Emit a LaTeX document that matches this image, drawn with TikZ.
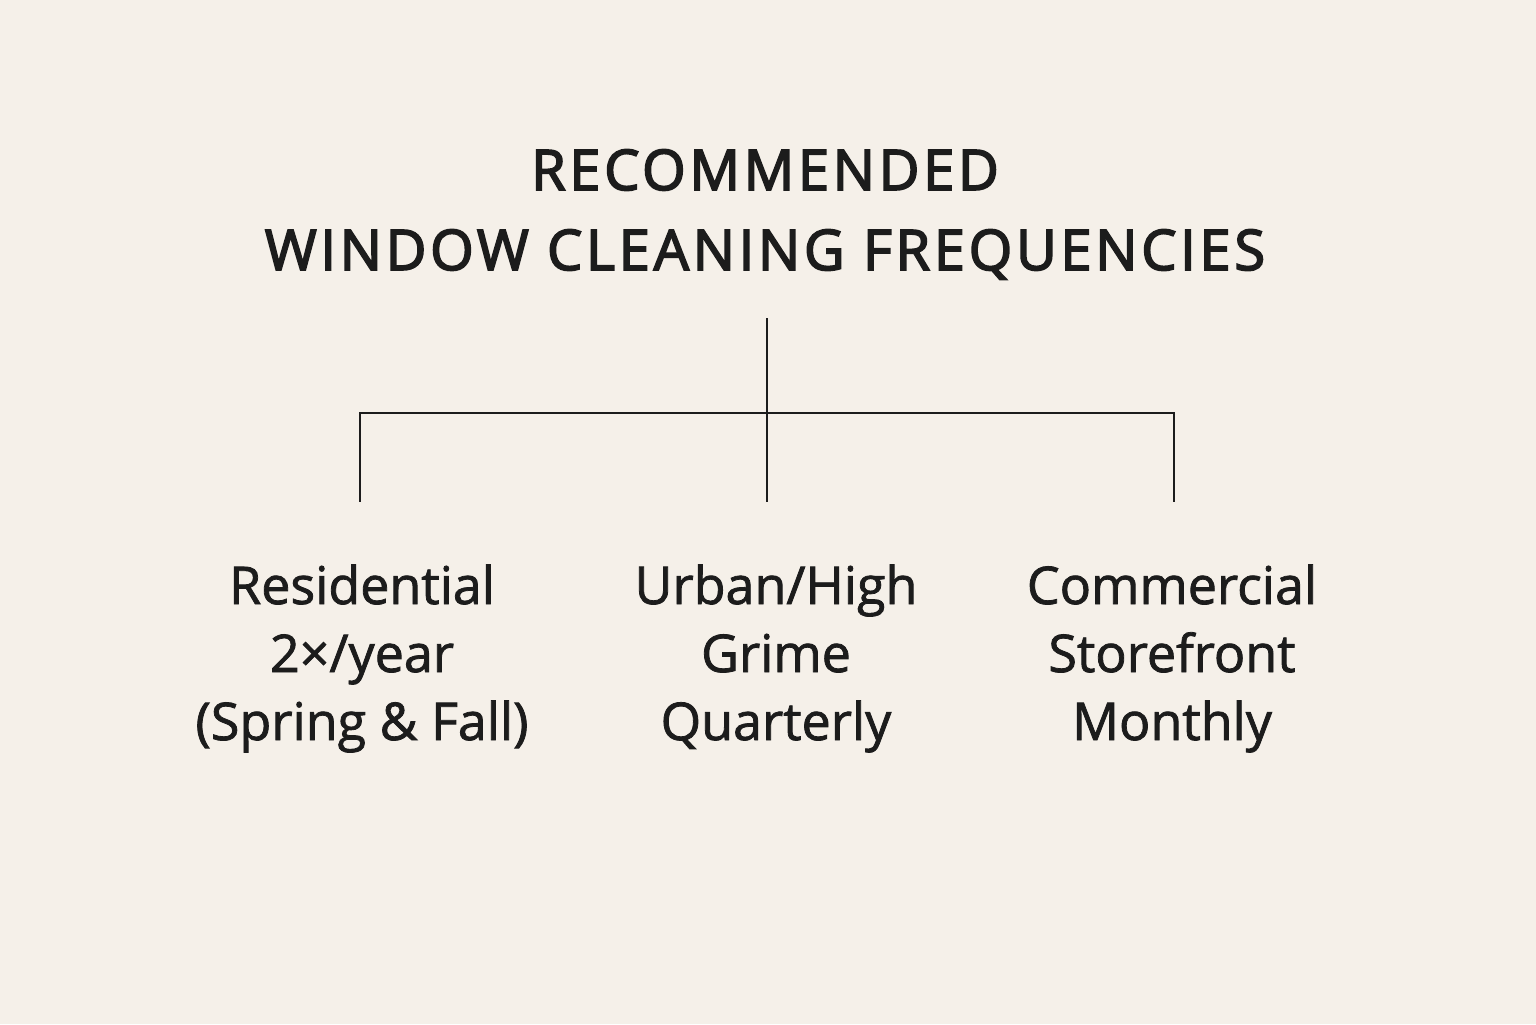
\documentclass[tikz,border=0pt]{standalone}
\usepackage{fontspec}
\setmainfont{Open Sans}
\usepackage{tikz}
\usetikzlibrary{positioning}
\definecolor{paper}{HTML}{F5F0E9}
\definecolor{ink}{HTML}{1C1C1C}

\begin{document}
\begin{tikzpicture}[x=0.5pt, y=-0.5pt, line width=1.1pt, draw=ink,
    title/.style = {align=center, text=ink, inner sep=0pt, anchor=base,
      font=\fontsize{28}{40}\selectfont\addfontfeatures{LetterSpace=6.6,FakeBold=3}},
    leaf/.style = {align=center, text=ink, inner sep=0pt, anchor=base,
      font=\fontsize{26}{34}\selectfont\addfontfeatures{FakeBold=1.5}}]
            % Page
            \fill[paper] (0,0) rectangle (1536,1024);
            \useasboundingbox (0,0) rectangle (1536,1024);
            % Nodes
            \node[title] (head) at (765,270) {RECOMMENDED\\WINDOW CLEANING FREQUENCIES};
            \coordinate (stem) at (767,318);
            \coordinate (hub) at (767,413);
            \coordinate (res-in) at (360,502);
            \coordinate (urb-in) at (767,502);
            \coordinate (com-in) at (1174,502);
            \node[leaf] (res) at (362,740) {Residential\\2×/year\\(Spring \& Fall)};
            \node[leaf] (urb) at (776,740) {Urban/High\\Grime\\Quarterly};
            \node[leaf] (com) at (1172,740) {Commercial\\Storefront\\Monthly};
            % Edges
            \draw (stem) -- (hub);
            \draw (hub) -| (res-in);
            \draw (hub) -| (com-in);
            \draw (hub) -- (urb-in);
\end{tikzpicture}
\end{document}
